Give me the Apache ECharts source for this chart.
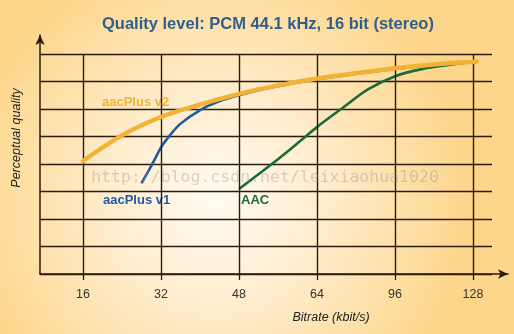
<!DOCTYPE html>
<html lang="en">
<head>
    <meta charset="UTF-8">
    <title>Quality level</title>
    <style>
        html, body { margin: 0; padding: 0; }
        #chart { width: 514px; height: 334px; }
    </style>
</head>
<body>
    <div id="chart"></div>
    <script src="https://cdn.jsdelivr.net/npm/echarts@6/dist/echarts.min.js"></script>
    <script>
        // bitrate ticks (kbit/s), drawn evenly spaced
        var bitrates = [16, 32, 48, 64, 96, 128];
        var qualityLevels = [0, 1, 2, 3, 4, 5, 6, 7, 8];

        // curves: [bitrate, perceptual quality]
        var aacPlusV2 = [[16, 4.11], [24, 5.04], [32, 5.71], [40, 6.16], [48, 6.55], [56, 6.86], [64, 7.11], [80, 7.3], [96, 7.48], [112, 7.62], [128, 7.72], [129.5, 7.73]];
        var aacPlusV1 = [[28, 3.3], [30.1, 3.96], [32.1, 4.63], [33.5, 4.97], [35.9, 5.45], [40.3, 5.99], [44.1, 6.29], [48, 6.5], [52.9, 6.72], [64, 7.08], [80, 7.28], [96, 7.46], [112, 7.6], [128, 7.7]];
        var aac = [[48, 3.09], [55.4, 4.09], [60.8, 4.87], [64.1, 5.35], [74.2, 6.02], [84.9, 6.71], [96.3, 7.2], [107, 7.45], [117.8, 7.6], [127, 7.7]];

        var seriesNames = ['aacPlus v2', 'aacPlus v1', 'AAC'];
        var seriesColors = ['#f2b233', '#1f5c9e', '#1a6b3c'];

        // position on the axis: each tick is one unit apart
        function pos(b) {
            for (var i = 0; i < bitrates.length - 1; i++) {
                if (b <= bitrates[i + 1]) {
                    return i + (b - bitrates[i]) / (bitrates[i + 1] - bitrates[i]);
                }
            }
            var n = bitrates.length - 1;
            return n + (b - bitrates[n]) / (bitrates[n] - bitrates[n - 1]);
        }
        function toXY(arr) {
            return arr.map(function (p) { return [pos(p[0]), p[1]]; });
        }

        var lineColor = '#2a1b0e';
        var chart = echarts.init(document.getElementById('chart'));

        var option = {
            backgroundColor: {
                type: 'radial', x: 0.42, y: 0.6, r: 0.75,
                colorStops: [
                    { offset: 0, color: '#fffbf2' },
                    { offset: 0.45, color: '#ffeccb' },
                    { offset: 1, color: '#fdd68c' }
                ]
            },
            animation: false,
            title: {
                text: 'Quality level: PCM 44.1 kHz, 16 bit (stereo)',
                left: 97,
                top: 11,
                textStyle: { fontFamily: 'Liberation Sans', fontSize: 16.5, fontWeight: 'bold', color: '#2f5f8f' }
            },
            grid: [
                { left: 40, right: 22, top: 54, bottom: 60 },
                { left: 40, right: 6, top: 35, bottom: 60 }
            ],
            xAxis: [{
                gridIndex: 0,
                type: 'value',
                min: -0.551,
                max: 5.244,
                axisLine: { show: false },
                axisTick: { show: true, customValues: [0, 1, 2, 3, 4, 5], length: 6, lineStyle: { color: lineColor, width: 1.3 } },
                axisLabel: {
                    customValues: [0, 1, 2, 3, 4, 5],
                    formatter: function (v) { return bitrates[Math.round(v)]; },
                    margin: 14,
                    fontFamily: 'Liberation Sans', fontSize: 12.5, color: '#333'
                },
                splitLine: { show: false },
                name: 'Bitrate (kbit/s)',
                nameLocation: 'middle',
                nameGap: 37,
                nameTextStyle: { fontFamily: 'Liberation Sans', fontSize: 12.5, fontStyle: 'italic', color: '#222', padding: [0, 0, 0, 130] }
            }, {
                gridIndex: 1,
                type: 'value', min: 0, max: 1,
                axisLine: { show: true, symbol: ['none', 'arrow'], symbolSize: [7, 10], lineStyle: { color: lineColor, width: 1.5 } },
                axisTick: { show: false }, axisLabel: { show: false }, splitLine: { show: false }
            }],
            yAxis: [{
                gridIndex: 0,
                type: 'value',
                min: 0, max: 8, interval: 1,
                axisLine: { show: false },
                axisTick: { show: false },
                axisLabel: { show: false },
                splitLine: { show: true, lineStyle: { color: lineColor, width: 1.4 } }
            }, {
                gridIndex: 1,
                type: 'value', min: 0, max: 1,
                axisLine: { show: true, symbol: ['none', 'arrow'], symbolSize: [7, 10], lineStyle: { color: lineColor, width: 1.5 } },
                axisTick: { show: false }, axisLabel: { show: false }, splitLine: { show: false }
            }],
            graphic: [{
                type: 'text',
                x: 17, y: 138,
                rotation: Math.PI / 2,
                style: {
                    text: 'Perceptual quality',
                    font: 'italic 12.5px "Liberation Sans"',
                    fill: '#222',
                    align: 'center', verticalAlign: 'middle'
                }
            }, {
                type: 'text',
                x: 265, y: 178,
                z: 100,
                style: {
                    text: 'http://blog.csdn.net/leixiaohua1020',
                    font: '16.5px "DejaVu Sans Mono"',
                    fill: 'rgba(150,150,150,0.4)',
                    align: 'center', verticalAlign: 'middle'
                }
            }, {
                type: 'text', x: 102, y: 102,
                style: { text: seriesNames[0], font: 'bold 13px "Liberation Sans"', fill: seriesColors[0], verticalAlign: 'middle' }
            }, {
                type: 'text', x: 103, y: 200,
                style: { text: seriesNames[1], font: 'bold 13px "Liberation Sans"', fill: seriesColors[1], verticalAlign: 'middle' }
            }, {
                type: 'text', x: 241, y: 200,
                style: { text: seriesNames[2], font: 'bold 13px "Liberation Sans"', fill: seriesColors[2], verticalAlign: 'middle' }
            }],
            series: [{
                type: 'line',
                xAxisIndex: 0, yAxisIndex: 0,
                data: [],
                silent: true,
                markLine: {
                    silent: true,
                    symbol: 'none',
                    label: { show: false },
                    lineStyle: { color: lineColor, width: 1.4, type: 'solid' },
                    data: bitrates.map(function (b, i) { return { xAxis: i }; })
                }
            }, {
                name: seriesNames[2],
                type: 'line', smooth: 0.3, showSymbol: false, z: 3,
                data: toXY(aac),
                lineStyle: { color: seriesColors[2], width: 2.6 }
            }, {
                name: seriesNames[1],
                type: 'line', smooth: 0.3, showSymbol: false, z: 4,
                data: toXY(aacPlusV1),
                lineStyle: { color: seriesColors[1], width: 2.6 }
            }, {
                name: seriesNames[0],
                type: 'line', smooth: 0.3, showSymbol: false, z: 5,
                data: toXY(aacPlusV2),
                lineStyle: { color: seriesColors[0], width: 4.5, cap: 'round' }
            }]
        };

        chart.setOption(option);
    </script>
</body>
</html>
